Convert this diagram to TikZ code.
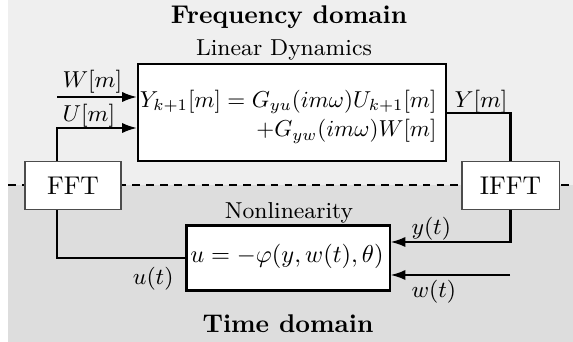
\documentclass[tikz,border=0pt]{standalone}
\usetikzlibrary{arrows.meta}
\definecolor{freqbg}{HTML}{EFEFEF}
\definecolor{timebg}{HTML}{DDDDDD}
\begin{document}
\begin{tikzpicture}[x=0.3906pt,y=-0.3906pt,
  block/.style={draw, line width=0.8pt, fill=white, inner sep=0pt},
  fftbox/.style={draw=black!70, line width=0.4pt, fill=white, inner sep=0pt,
                 minimum width=37.5pt, minimum height=19.1pt},
  wire/.style={line width=0.8pt},
  arr/.style={wire, -{Latex[length=5.8pt,width=4pt]}},
  lbl/.style={font=\small, inner sep=0pt},
  eqn/.style={scale=0.9, inner sep=0pt},
  title/.style={font=\bfseries, inner sep=0pt},
  divider/.style={line width=0.8pt, dash pattern=on 3pt off 2.4pt}]
\useasboundingbox (0,0) rectangle (573,342);

% frequency-domain and time-domain halves
\fill[freqbg] (8,0) rectangle (573,185);
\fill[timebg] (8,185) rectangle (573,342);
\draw[divider] (8,185) -- (573,185);

% blocks
\node[block, minimum width=120.3pt, minimum height=37.9pt] (lin) at (292,112.5) {};
\node[block, minimum width=79.3pt, minimum height=25.4pt] (nl) at (288,258) {};
\node[fftbox] (fft) at (73,185.5) {FFT};
\node[fftbox, minimum width=37.9pt] (ifft) at (510.5,185.5) {IFFT};

% titles and block captions
\node[title, anchor=base] (ftitle) at (289,24) {Frequency domain};
\node[title, anchor=base] (ttitle) at (288,332) {Time domain};
\node[lbl, anchor=base] (lincap) at (284,56) {Linear Dynamics};
\node[lbl, anchor=base] (nlcap) at (289,219) {Nonlinearity};

% block contents
\node[eqn, anchor=base east] (eq1) at (437,107.5) {$Y_{k+1}[m]=G_{yu}(im\omega)U_{k+1}[m]$};
\node[eqn, anchor=base east] (eq2) at (437,137) {$+G_{yw}(im\omega)W[m]$};
\node[eqn, scale=1.06, anchor=base] (eq3) at (287,263) {$u=-\varphi(y,w(t),\theta)$};

% helper coordinates for the signal lines
\coordinate (busL) at (57,0);
\coordinate (busR) at (510,0);
\coordinate (wy) at (0,97);
\coordinate (uy) at (0,128);
\coordinate (Yy) at (0,113);
\coordinate (yy) at (0,242);
\coordinate (wty) at (0,275);
\coordinate (uty) at (0,258);

% signal lines
\draw[arr] (busL |- wy) -- (lin.west |- wy);
\draw[arr] (busL |- fft.north) |- (lin.west |- uy);
\draw[wire] (lin.east |- Yy) -| (ifft.north);
\draw[arr] (ifft.south) |- (nl.east |- yy);
\draw[arr] (busR |- wty) -- (nl.east |- wty);
\draw[wire] (nl.west |- uty) -| (busL |- fft.south);

% signal labels
\node[lbl, anchor=base west] (Wlab) at (62,88) {$W[m]$};
\node[lbl, anchor=base west] (Ulab) at (62,122) {$U[m]$};
\node[lbl, anchor=base west] (Ylab) at (454,108) {$Y[m]$};
\node[lbl, anchor=base west] (ylab) at (411,235) {$y(t)$};
\node[lbl, anchor=base west] (wlab) at (411,297) {$w(t)$};
\node[lbl, anchor=base east] (ulab) at (174,285) {$u(t)$};
\end{tikzpicture}
\end{document}
